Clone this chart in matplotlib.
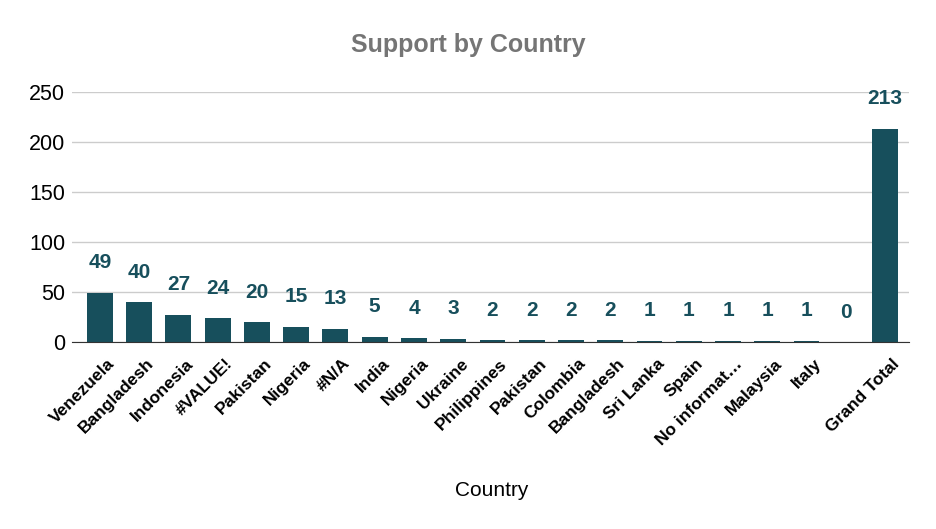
import matplotlib.pyplot as plt
import matplotlib.transforms as mtransforms

paises = ["Venezuela", "Bangladesh", "Indonesia", "#VALUE!", "Pakistan", "Nigeria",
          "#N/A", "India", "Nigeria", "Ukraine", "Philippines", "Pakistan", "Colombia",
          "Bangladesh", "Sri Lanka", "Spain", "No informat…", "Malaysia", "Italy", "",
          "Grand Total"]
apoyos = [49, 40, 27, 24, 20, 15, 13, 5, 4, 3, 2, 2, 2, 2, 1, 1, 1, 1, 1, 0, 213]

color_barra = "#174f5c"

plt.rcParams["font.family"] = ["Liberation Sans", "DejaVu Sans"]

fig = plt.figure(figsize=(9.36, 5.29), dpi=100)
ax = fig.add_axes([72 / 936, 1 - 342 / 529, (909 - 72) / 936, (342 - 92) / 529])

indices = list(range(len(paises)))
ax.bar(indices, apoyos, width=0.66, color=color_barra, zorder=3)

for i, v in zip(indices, apoyos):
    ax.annotate(str(v), (i, v), xytext=(0, 30), textcoords="offset pixels",
                ha="center", va="center", fontsize=15, fontweight="bold",
                color=color_barra, zorder=4)

ax.set_xlim(-0.71, 20.61)
ax.set_ylim(0, 250)
ax.set_yticks([0, 50, 100, 150, 200, 250])
ax.grid(axis="y", color="#cccccc", linewidth=1, zorder=0)
ax.set_axisbelow(True)
for lado in ["top", "right", "left"]:
    ax.spines[lado].set_visible(False)
ax.spines["bottom"].set_color("#333333")
ax.spines["bottom"].set_zorder(5)

# etiquetas del eje x dibujadas a mano para poder desplazarlas
ax.set_xticks(indices)
ax.set_xticklabels([])
ax.tick_params(axis="x", length=0)
ax.tick_params(axis="y", length=0, pad=5, labelsize=15.5)
desplazamiento = mtransforms.ScaledTranslation(7 / 100, -14 / 100, fig.dpi_scale_trans)
trans = ax.get_xaxis_transform() + desplazamiento
for i, nombre in zip(indices, paises):
    ax.text(i, 0, nombre, transform=trans, rotation=45, ha="right", va="top",
            rotation_mode="anchor", fontsize=12.5, fontweight="bold")

fig.text(492 / 936, 1 - 490 / 529, "Country", ha="center", va="center", fontsize=15)
fig.text(0.5, 1 - 45 / 529, "Support by Country", ha="center", va="center",
         fontsize=18, fontweight="bold", color="#757575")

fig.savefig("out.png", dpi=100)
